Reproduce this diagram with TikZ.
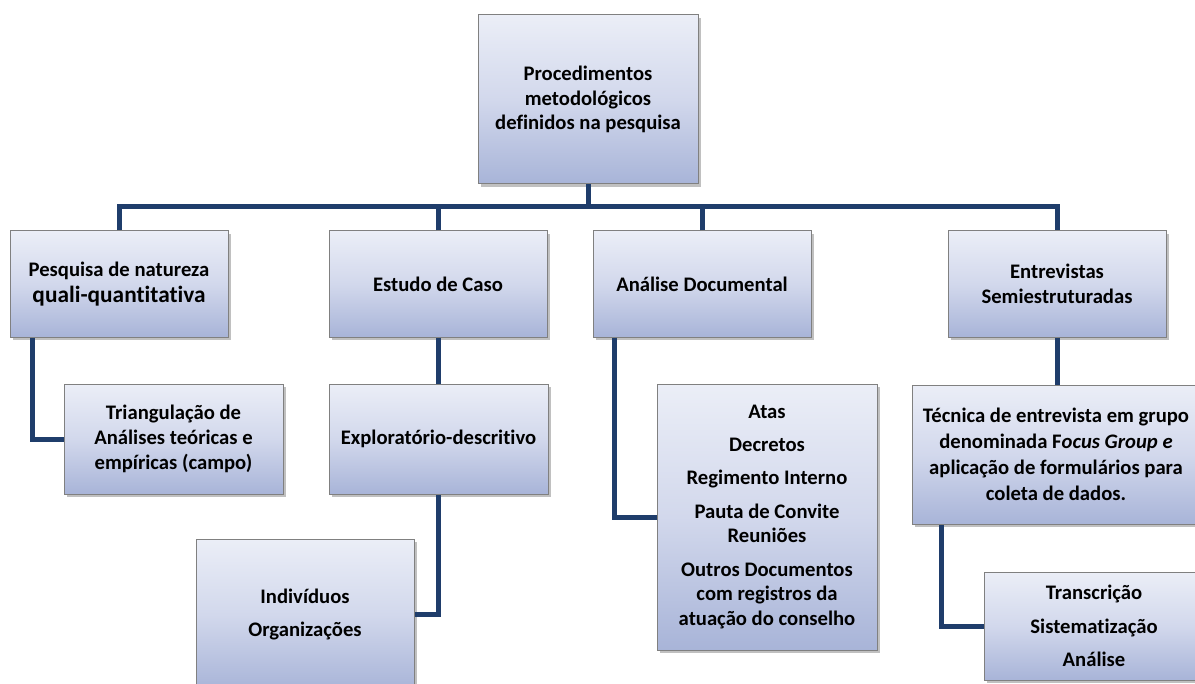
\documentclass[tikz,border=0pt]{standalone}
\usepackage{fontspec}
\setmainfont[Ligatures=NoCommon]{Carlito}
\usetikzlibrary{shadows}
\definecolor{navy}{HTML}{1F3D6B}
\definecolor{boxtop}{HTML}{EBEEF7}
\definecolor{boxmid}{HTML}{D2D8EC}
\definecolor{boxbot}{HTML}{A8B4D8}
\definecolor{boxline}{HTML}{808080}
\tikzset{
  box/.style={draw=boxline, line width=0.75pt, top color=boxtop, bottom color=boxbot, middle color=boxmid,
    inner sep=0pt, align=center, font=\bfseries\fontsize{15.5}{18.5}\selectfont,
    drop shadow={shadow xshift=2pt, shadow yshift=-2.5pt, opacity=0.35, fill=black!70}},
  conn/.style={draw=navy, line width=3.75pt}
}
\begin{document}
\begin{tikzpicture}[x=0.75pt,y=-0.75pt]
\fill[white] (0,0) rectangle (1195,684);
\useasboundingbox (0,0) rectangle (1195,684);
\clip (0,0) rectangle (1195,684);

\node[box, minimum width=165pt, minimum height=126.75pt] (top) at (588,99.5)
  {Procedimentos\\metodológicos\\definidos na pesquisa};

\node[box, minimum width=163.5pt, minimum height=79.5pt] (b1) at (119,284)
  {Pesquisa de natureza\\[1pt]{\fontsize{17.5}{20}\selectfont quali-quantitativa}};
\node[box, minimum width=163.5pt, minimum height=79.5pt] (b2) at (438,284) {Estudo de Caso};
\node[box, minimum width=163.5pt, minimum height=79.5pt] (b3) at (702,284) {Análise Documental};
\node[box, minimum width=163.5pt, minimum height=79.5pt] (b4) at (1057,284) {Entrevistas\\Semiestruturadas};

\node[box, minimum width=164.25pt, minimum height=82.5pt] (c1) at (173.5,439)
  {Triangulação de\\Análises teóricas e\\empíricas (campo)};
\node[box, minimum width=164.25pt, minimum height=82.5pt] (c2) at (438.5,439) {Exploratório-descritivo};
\node[box, minimum width=163.5pt, minimum height=113.25pt] (c3) at (305,614.5)
  {Indivíduos\\[6.5pt]Organizações};
\node[box, minimum width=165pt, minimum height=199.5pt] (c4) at (767,517)
  {Atas\\[6.5pt]Decretos\\[6.5pt]Regimento Interno\\[6.5pt]Pauta de Convite\\Reuniões\\[6.5pt]Outros Documentos\\com registros da\\atuação do conselho};
\node[box, minimum width=216pt, minimum height=104.25pt] (c5) at (1056,454.5)
  {Técnica de entrevista em grupo\\[1pt]denominada F\textit{ocus Group e}\\[1pt]aplicação de formulários para\\[1pt]coleta de dados.};
\node[box, minimum width=165pt, minimum height=81pt] (c6) at (1094,626)
  {Transcrição\\[6.5pt]Sistematização\\[6.5pt]Análise};

\coordinate (bus) at (0,207);
\draw[conn] (top.south) -- (top.south |- bus);
\draw[conn] (b1.north) |- (b4.north |- bus) -- (b4.north);
\draw[conn] (b2.north) -- (b2.north |- bus);
\draw[conn] (b3.north) -- (b3.north |- bus);

\draw[conn] ([xshift=17.25pt]b1.south west) |- (c1.west);
\draw[conn] (b2.south) -- (b2.south |- c2.north);
\draw[conn] (c2.south) |- (c3.east);
\draw[conn] ([xshift=16.5pt]b3.south west) |- (c4.west);
\draw[conn] (b4.south) -- (b4.south |- c5.north);
\draw[conn] ([xshift=22.5pt]c5.south west) |- (c6.west);
\end{tikzpicture}
\end{document}
